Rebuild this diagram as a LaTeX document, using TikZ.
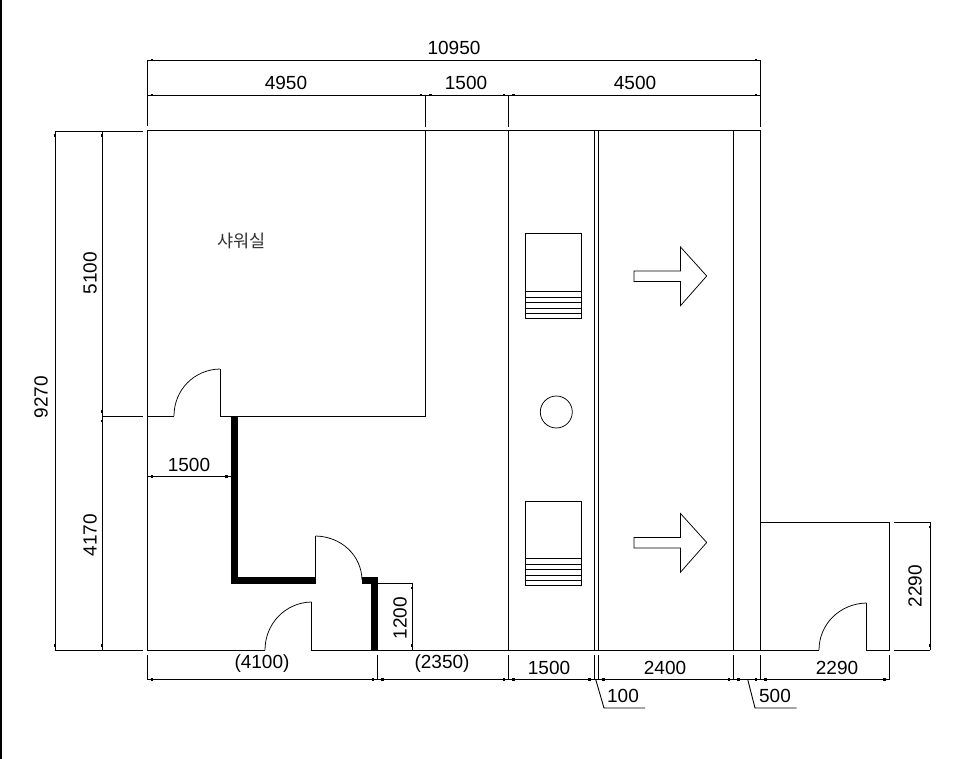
\documentclass[tikz,border=0pt]{standalone}
\usepackage{fontspec}
\setmainfont{Liberation Sans}
\newfontfamily\krfont{Noto Sans CJK KR}
\tikzset{
  wall/.style={line width=1pt,line cap=butt,black},
  thin door/.style={line width=0.75pt,black},
  thick wall/.style={line width=7pt,line join=miter,black},
  dimtext/.style={inner sep=0pt,font=\fontsize{19}{19}\selectfont,text=black},
  dimline/.style={line width=0.9pt,black},
  dimdot/.style={fill=black,draw=none}
}
\newcommand{\dimH}[3]{% y, x1, x2
  \draw[dimline] (#2,#1) -- (#3,#1);
  \fill[dimdot] (#2+3.5,#1-1.2) rectangle (#2+6,#1+1.2);
  \fill[dimdot] (#3-6,#1-1.2) rectangle (#3-3.5,#1+1.2);
}
\newcommand{\dimV}[3]{% x, y1, y2
  \draw[dimline] (#1,#2) -- (#1,#3);
  \fill[dimdot] (#1-1.2,#2+3.5) rectangle (#1+1.2,#2+6);
  \fill[dimdot] (#1-1.2,#3-6) rectangle (#1+1.2,#3-3.5);
}
\begin{document}
\begin{tikzpicture}[x=1pt,y=-1pt]
\useasboundingbox (0,0) rectangle (968,759);
\fill[white] (0,0) rectangle (968,759);
% page edge
\draw[line width=1.4pt] (1,0) -- (1,759);
% outline
\draw[wall] (147,131) -- (760.5,131);
\draw[wall] (147,131) -- (147,650) -- (265,650);
\draw[wall] (425.5,131) -- (425.5,416) -- (220,416) -- (220,369);
\draw[wall] (147,416) -- (174,416);
\draw[wall] (508.5,131) -- (508.5,650);
\draw[wall] (594,131) -- (594,650);
\draw[wall] (598.5,131) -- (598.5,650);
\draw[wall] (733.5,131) -- (733.5,650);
\draw[wall] (760.5,131) -- (760.5,650);
\draw[wall] (311.5,602) -- (311.5,650) -- (819,650);
\draw[wall] (760.5,522) -- (889,522) -- (889,650) -- (866.5,650) -- (866.5,603);
% doors
\draw[thin door] (174,416) .. controls (174,390) and (194,369.5) .. (220,369);
\draw[thin door] (265,650) .. controls (265,624) and (285,602.5) .. (311.5,602);
\draw[thin door] (819,650) .. controls (819,624) and (840,603.5) .. (866.5,603);
\draw[thin door] (315.5,536) .. controls (341,536.5) and (361.5,555) .. (362,580);
% thick walls
\draw[thick wall] (234.5,416) -- (234.5,580) -- (315.5,580);
\draw[thick wall] (362,580) -- (374.5,580) -- (374.5,650);
\draw[wall] (315.5,536) -- (315.5,580);
% stairs
\foreach \dy in {0,267}{
  \draw[wall] (525,234+\dy) rectangle (581.5,318.5+\dy);
  \foreach \ly in {291,297,302,308,313}{
    \draw[wall] (525,\ly+\dy) -- (581.5,\ly+\dy);
  }
}
\draw[thin door] (556.3,412) circle (16);
% direction arrows
\foreach \dy in {0,266.5}{
  \draw[thin door,line join=miter] (634,271+\dy) -- (680.5,271+\dy) -- (680.5,247+\dy) -- (706.7,276+\dy) -- (680.5,305.7+\dy) -- (680.5,281.5+\dy) -- (634,281.5+\dy) -- cycle;
}
% extension lines top
\draw[dimline] (147,60) -- (147,126.5);
\draw[dimline] (425.5,95) -- (425.5,127);
\draw[dimline] (508.5,95) -- (508.5,127);
\draw[dimline] (760.5,60) -- (760.5,127);
% extension lines left
\draw[dimline] (55,131) -- (143,131);
\draw[dimline] (102,416) -- (143,416);
\draw[dimline] (55,650) -- (143,650);
% extension lines right
\draw[dimline] (894,522) -- (930,522);
\draw[dimline] (894,650) -- (930,650);
\draw[dimline] (378,583) -- (412,583);
% extension lines bottom
\foreach \ex in {147,377.5,508.5,594,598.5,733.5,760.5,889}{
  \draw[dimline] (\ex,655) -- (\ex,680);
}
% dimension lines
\dimH{60}{147}{760.5}
\dimH{95}{147}{425.5}
\dimH{95}{425.5}{508.5}
\dimH{95}{508.5}{760.5}
\dimH{476.5}{147}{231}
\dimH{679.5}{147}{377.5}
\dimH{679.5}{377.5}{508.5}
\dimH{679.5}{508.5}{594}
\dimH{679.5}{598.5}{733.5}
\dimH{679.5}{733.5}{760.5}
\dimH{679.5}{760.5}{889}
\draw[dimline] (594,679.5) -- (598.5,679.5);
\dimV{55}{131}{650}
\dimV{102}{131}{416}
\dimV{102}{416}{650}
\dimV{412}{583}{650}
\dimV{930}{522}{650}
% leaders
\draw[dimline] (595.7,679.5) -- (604,708) -- (645,708);
\draw[dimline] (747.7,679.5) -- (755,708) -- (796.7,708);
% labels
\node[dimtext] (t10950) at (454,48) {10950};
\node[dimtext] (t4950) at (286,83) {4950};
\node[dimtext] (t1500a) at (466,83) {1500};
\node[dimtext] (t4500) at (635,83) {4500};
\node[dimtext,rotate=90] (t9270) at (41,397) {9270};
\node[dimtext,rotate=90] (t5100) at (90,273) {5100};
\node[dimtext,rotate=90] (t4170) at (90,535) {4170};
\node[dimtext] (t1500b) at (189,465) {1500};
\node[dimtext,rotate=90] (t1200) at (400,618) {1200};
\node[dimtext,rotate=90] (t2290a) at (915,586) {2290};
\node[dimtext] (t4100) at (262,664) {(4100)};
\node[dimtext] (t2350) at (442,664) {(2350)};
\node[dimtext] (t1500c) at (549,668) {1500};
\node[dimtext] (t2400) at (665,668) {2400};
\node[dimtext] (t2290b) at (837,668) {2290};
\node[dimtext] (t100) at (623,696) {100};
\node[dimtext] (t500) at (775,696) {500};
\node[inner sep=0pt,font=\krfont\fontsize{17.5}{18}\selectfont,text=black!80] (room) at (241.5,241) {샤워실};
\end{tikzpicture}
\end{document}
